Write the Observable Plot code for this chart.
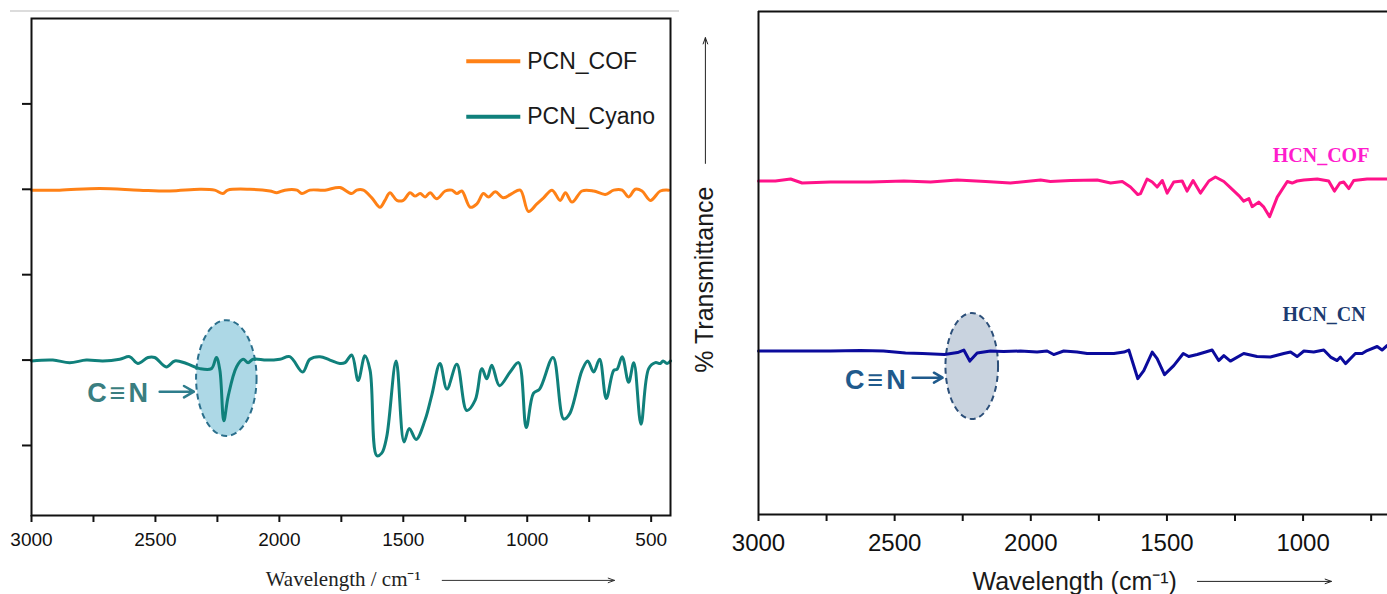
<!DOCTYPE html>
<html><head><meta charset="utf-8">
<script src="https://cdn.jsdelivr.net/npm/d3@7"></script>
<script src="https://cdn.jsdelivr.net/npm/@observablehq/plot@0.6"></script>
<style>
html,body{margin:0;padding:0;background:#fff;}
#wrap{position:relative;width:1387px;height:594px;overflow:hidden;background:#fff;}
#left{position:absolute;left:0;top:0;}
#right{position:absolute;left:690px;top:0;}
#topline{position:absolute;left:10px;top:10px;width:669px;height:2px;background:#dcdcdc;}
</style></head><body>
<div id="wrap"><div id="topline"></div><div id="left"></div><div id="right"></div></div>
<script>
// ---------- DATA (wavenumber cm-1, transmittance a.u.) ----------
const pcnCof = [[3000,39.9],[2887,39.9],[2725,40.1],[2564,39.9],[2442,39.8],[2321,40.0],[2261,39.9],[2228,39.5],[2208,39.9],[2119,40.0],[2038,39.8],[2010,39.6],[1978,39.9],[1929,39.9],[1909,39.5],[1877,39.9],[1816,39.9],[1756,40.2],[1708,39.5],[1688,39.9],[1661,39.9],[1627,39.0],[1594,37.9],[1574,38.7],[1554,39.6],[1526,38.7],[1500,38.7],[1473,39.6],[1453,39.2],[1432,39.5],[1412,39.1],[1392,39.6],[1365,38.9],[1331,39.8],[1304,39.9],[1284,39.5],[1264,39.8],[1230,37.9],[1203,38.3],[1177,39.5],[1156,39.1],[1129,39.7],[1096,39.0],[1062,39.5],[1028,39.9],[995,37.4],[961,38.3],[934,39.0],[900,39.9],[867,38.7],[846,39.6],[819,38.5],[779,39.8],[732,39.8],[685,39.4],[651,39.9],[617,39.9],[591,39.1],[564,40.0],[537,39.8],[503,38.7],[463,39.8],[429,39.9]];

const pcnCyano = [[3000,19.9],[2914,20.0],[2846,19.7],[2779,20.0],[2712,19.9],[2644,20.1],[2604,20.4],[2571,19.6],[2530,20.3],[2503,20.3],[2456,19.2],[2422,19.9],[2375,19.6],[2321,19.0],[2274,19.0],[2254,20.3],[2240,18.8],[2224,12.9],[2207,15.7],[2173,19.2],[2146,20.1],[2126,19.7],[2106,20.1],[2052,20.0],[1998,20.1],[1958,20.4],[1906,18.6],[1877,20.1],[1836,20.4],[1796,20.0],[1756,19.6],[1735,19.7],[1708,20.6],[1682,17.6],[1655,20.5],[1634,18.8],[1607,8.8],[1587,9.1],[1567,11.0],[1529,19.9],[1497,10.4],[1476,12.0],[1448,10.7],[1412,13.0],[1385,15.9],[1352,19.6],[1324,16.6],[1284,19.5],[1244,14.1],[1210,15.3],[1183,19.0],[1163,17.8],[1143,19.4],[1112,17.0],[1069,18.6],[1035,19.7],[1004,12.1],[975,16.1],[950,16.6],[896,20.3],[853,13.1],[829,13.7],[779,18.8],[756,19.9],[732,18.6],[708,20.1],[681,15.5],[651,18.8],[638,18.9],[617,20.4],[591,17.4],[570,19.7],[541,12.5],[510,19.0],[483,19.7],[463,19.6],[452,19.9],[436,19.6],[422,19.9]];

const hcnCof = [[3000,66.3],[2938,66.3],[2882,66.7],[2840,65.9],[2736,66.1],[2589,66.1],[2466,66.3],[2368,66.1],[2270,66.5],[2166,66.2],[2075,65.9],[1964,66.5],[1928,66.2],[1854,66.4],[1756,66.5],[1707,65.9],[1664,66.2],[1634,65.1],[1607,63.6],[1597,63.8],[1573,66.7],[1554,66.1],[1536,65.1],[1517,66.4],[1499,63.9],[1475,66.1],[1444,66.3],[1426,64.3],[1404,66.4],[1377,63.9],[1346,66.3],[1322,67.1],[1291,66.2],[1267,65.0],[1236,63.4],[1218,62.3],[1199,62.8],[1187,61.2],[1163,62.1],[1144,61.1],[1123,59.2],[1095,63.1],[1058,66.2],[1040,65.9],[1022,66.3],[997,66.5],[948,66.7],[906,66.3],[885,64.3],[865,65.9],[851,66.1],[832,64.8],[814,66.4],[765,66.7],[691,66.7]];

const hcnCn = [[3000,32.5],[2846,32.5],[2736,32.5],[2625,32.6],[2541,32.5],[2460,32.1],[2398,32.0],[2317,31.8],[2269,32.2],[2246,32.7],[2224,30.5],[2197,32.1],[2148,32.5],[2100,32.4],[2038,32.5],[1977,32.3],[1940,32.5],[1916,31.8],[1879,32.5],[1830,32.3],[1793,32.0],[1744,32.0],[1695,32.0],[1658,32.3],[1640,32.7],[1607,27.0],[1585,28.6],[1554,32.3],[1536,31.0],[1509,27.8],[1475,29.6],[1440,32.0],[1420,31.4],[1389,31.8],[1358,32.3],[1334,32.7],[1310,30.6],[1291,31.6],[1267,30.5],[1218,32.0],[1169,31.4],[1120,31.3],[1071,32.0],[1046,32.3],[1022,31.4],[997,32.5],[961,32.3],[924,32.7],[899,31.3],[875,30.6],[863,31.3],[844,30.0],[808,32.0],[783,32.0],[765,32.6],[728,33.4],[710,32.7],[691,33.6]];

const leftMajorTicks = [3000, 2500, 2000, 1500, 1000, 500];
const leftMinorTicks = [2750, 2250, 1750, 1250, 750];
const leftYTicks = [10, 20, 30, 40, 50];
const rightMajorTicks = [3000, 2500, 2000, 1500, 1000];
const rightMinorTicks = [2750, 2250, 1750, 1250, 750];

const leftLegendNames = ["PCN_COF", "PCN_Cyano"];
const rightLabelNames = ["HCN_COF", "HCN_CN"];
const bondLabel = "C\u2261N";
const leftXTitle = "Wavelength / cm\u207B\u00B9";
const rightXTitle = "Wavelength (cm\u207B\u00B9)";
const rightYTitle = "% Transmittance";

// ---------- STYLES / POSITIONS ----------
const C = {
  cof: "#ff8116", cyano: "#10807b", hcof: "#ff1289", hcn: "#0b0b9c",
  hcofText: "#ff1ccc", hcnText: "#1d3b70",
  cnLeft: "#3a7e80", cnLeftArrow: "#2e7d8c", cnRight: "#1f5a8c",
  ellLeftFill: "#add8e6", ellLeftStroke: "#2b6f8c",
  ellRightFill: "#c9d3df", ellRightStroke: "#2c4f79", ink: "#111"
};
const toRows = a => a.map(([w, t]) => ({w, t}));

function ellipseMark(e, fill, stroke) {
  return (index, scales) => {
    const cx = scales.x(e.cx), cy = scales.y(e.cy);
    const rx = Math.abs(scales.x(e.cx + e.rx) - cx);
    const ry = Math.abs(scales.y(e.cy + e.ry) - cy);
    const el = document.createElementNS("http://www.w3.org/2000/svg", "ellipse");
    el.setAttribute("cx", cx); el.setAttribute("cy", cy);
    el.setAttribute("rx", rx); el.setAttribute("ry", ry);
    el.setAttribute("fill", fill); el.setAttribute("stroke", stroke);
    el.setAttribute("stroke-width", 2); el.setAttribute("stroke-dasharray", "6,4");
    return el;
  };
}

const baseStyle = {fontFamily: "'Liberation Sans', Arial, sans-serif", color: C.ink, background: "transparent", maxWidth: "none", overflow: "visible"};

// ---------- LEFT PANEL ----------
const left = Plot.plot({
  width: 700, height: 594,
  marginLeft: 31, marginRight: 30, marginTop: 18, marginBottom: 79,
  x: {domain: [3000, 422], label: null},
  y: {domain: [1.8, 60], label: null},
  style: {...baseStyle, fontSize: "19px"},
  marks: [
    ellipseMark({cx: 2212, cy: 17.84, rx: 122, ry: 6.78}, C.ellLeftFill, C.ellLeftStroke),
    Plot.line(toRows(pcnCof), {x: "w", y: "t", stroke: C.cof, strokeWidth: 3, curve: "catmull-rom"}),
    Plot.line(toRows(pcnCyano), {x: "w", y: "t", stroke: C.cyano, strokeWidth: 3, curve: "catmull-rom"}),
    Plot.frame({stroke: C.ink, strokeWidth: 2}),
    Plot.axisX({ticks: leftMajorTicks, tickSize: 7, tickPadding: 10, strokeWidth: 2, tickFormat: d => String(d), label: null}),
    Plot.axisX({ticks: leftMinorTicks, tickSize: 7, strokeWidth: 2, tickFormat: () => "", label: null}),
    Plot.axisY({ticks: leftYTicks, tickSize: 9, strokeWidth: 2, tickFormat: () => "", label: null}),
    // legend
    Plot.link([{a: 1246, b: 1028, y: 55.0}], {x1: "a", x2: "b", y1: "y", y2: "y", stroke: C.cof, strokeWidth: 4}),
    Plot.link([{a: 1246, b: 1028, y: 48.5}], {x1: "a", x2: "b", y1: "y", y2: "y", stroke: C.cyano, strokeWidth: 4}),
    Plot.text([{x: 1000, y: 55.0, s: leftLegendNames[0]}, {x: 1000, y: 48.5, s: leftLegendNames[1]}],
      {x: "x", y: "y", text: "s", textAnchor: "start", fontSize: 23, fill: "#1a1a1a"}),
    // C≡N annotation
    Plot.text([{x: 2646, y: 16.1, s: bondLabel}], {x: "x", y: "y", text: "s", fontSize: 27, fontWeight: "bold", fill: C.cnLeft}),
    Plot.arrow([{a: 2483, b: 2345, y: 16.3}], {x1: "a", x2: "b", y1: "y", y2: "y", stroke: C.cnLeftArrow, strokeWidth: 2.5, headLength: 9}),
    // axis title
    Plot.text([{x: 2055, y: -5.7, s: leftXTitle}], {x: "x", y: "y", text: "s", textAnchor: "start", fontFamily: "'Liberation Serif', 'Times New Roman', serif", fontSize: 21, fill: "#222"}),
    Plot.arrow([{a: 1343, b: 648, y: -5.8}], {x1: "a", x2: "b", y1: "y", y2: "y", stroke: "#333", strokeWidth: 1, headLength: 10, headAngle: 40})
  ]
});

// ---------- RIGHT PANEL ----------
const right = Plot.plot({
  width: 697, height: 594,
  marginLeft: 68, marginRight: 0, marginTop: 11, marginBottom: 80,
  x: {domain: [3000, 690], label: null},
  y: {domain: [0, 100], axis: null, label: null},
  style: {...baseStyle, fontSize: "24px"},
  marks: [
    ellipseMark({cx: 2215, cy: 29.42, rx: 96.6, ry: 10.54}, C.ellRightFill, C.ellRightStroke),
    Plot.line(toRows(hcnCof), {x: "w", y: "t", stroke: C.hcof, strokeWidth: 3}),
    Plot.line(toRows(hcnCn), {x: "w", y: "t", stroke: C.hcn, strokeWidth: 3}),
    Plot.ruleY([0, 100], {stroke: C.ink, strokeWidth: 2}),
    Plot.ruleX([3000], {stroke: C.ink, strokeWidth: 2}),
    Plot.axisX({ticks: rightMajorTicks, tickSize: 7, tickPadding: 12, strokeWidth: 2, tickFormat: d => String(d), label: null}),
    Plot.axisX({ticks: rightMinorTicks, tickSize: 7, strokeWidth: 2, tickFormat: () => "", label: null}),
    Plot.text([{x: 934, y: 71.4, s: rightLabelNames[0]}], {x: "x", y: "y", text: "s", fontFamily: "'Liberation Serif', 'Times New Roman', serif", fontWeight: "bold", fontSize: 20, fill: C.hcofText}),
    Plot.text([{x: 923, y: 39.8, s: rightLabelNames[1]}], {x: "x", y: "y", text: "s", fontFamily: "'Liberation Serif', 'Times New Roman', serif", fontWeight: "bold", fontSize: 20, fill: C.hcnText}),
    Plot.text([{x: 2565, y: 26.6, s: bondLabel}], {x: "x", y: "y", text: "s", fontSize: 27, fontWeight: "bold", fill: C.cnRight}),
    Plot.arrow([{a: 2434, b: 2324, y: 27.2}], {x1: "a", x2: "b", y1: "y", y2: "y", stroke: C.cnRight, strokeWidth: 2.5, headLength: 9}),
    Plot.text([{x: 3195, y: 46.7, s: rightYTitle}], {x: "x", y: "y", text: "s", rotate: -90, fontSize: 25, fill: "#1a1a1a"}),
    Plot.arrow([{x: 3195, a: 69.8, b: 94.8}], {x1: "x", x2: "x", y1: "a", y2: "b", stroke: "#222", strokeWidth: 1, headLength: 10, headAngle: 40}),
    Plot.text([{x: 2214, y: -13.5, s: rightXTitle}], {x: "x", y: "y", text: "s", textAnchor: "start", fontSize: 25, fill: "#1a1a1a"}),
    Plot.arrow([{a: 1388, b: 896, y: -13.3}], {x1: "a", x2: "b", y1: "y", y2: "y", stroke: "#222", strokeWidth: 1, headLength: 10, headAngle: 40})
  ]
});

document.getElementById("left").append(left);
document.getElementById("right").append(right);
document.querySelectorAll("text").forEach(t => { if (t.textContent === bondLabel) t.setAttribute("letter-spacing", "3"); });
</script></body></html>
